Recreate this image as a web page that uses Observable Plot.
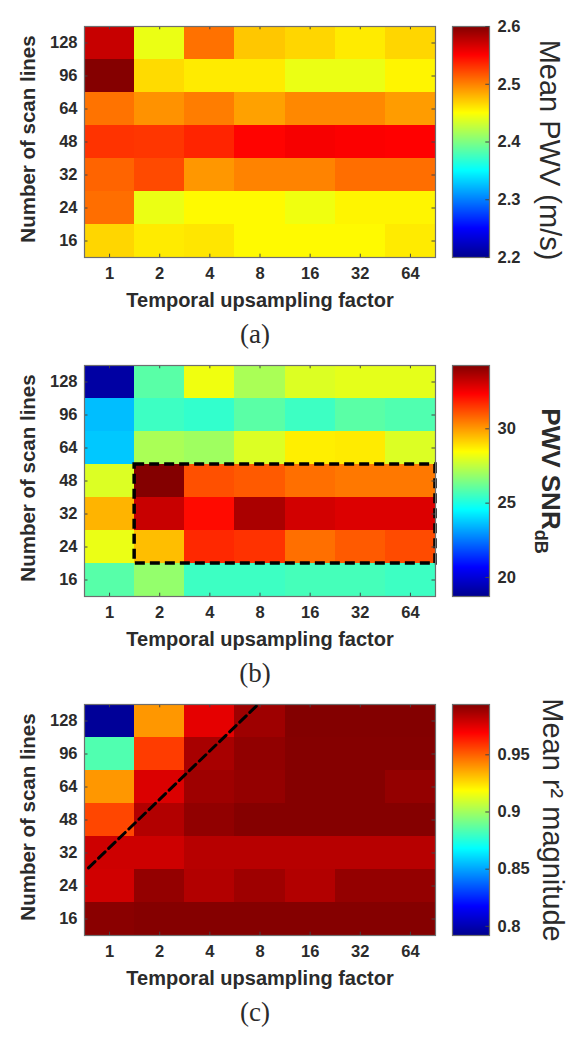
<!DOCTYPE html>
<html><head><meta charset="utf-8">
<script src="https://cdn.jsdelivr.net/npm/d3@7"></script>
<script src="https://cdn.jsdelivr.net/npm/@observablehq/plot@0.6"></script>
<style>
html,body{margin:0;padding:0;background:#fff;}
#fig{position:relative;width:576px;height:1047px;overflow:hidden;font-family:"Liberation Sans",Arial,sans-serif;color:#2b2b2b;}
#fig svg{position:absolute;background:transparent;overflow:visible;}
</style></head><body><div id="fig"></div>
<script>
// Categories
const upsampling = ["1","2","4","8","16","32","64"];
const scanLines = ["128","96","64","48","32","24","16"]; // top to bottom

// (a) Mean PWV (m/s), rows top (128) to bottom (16)
const meanPwv = [
  [2.572,2.442,2.506,2.472,2.466,2.458,2.466],
  [2.598,2.464,2.458,2.458,2.442,2.442,2.454],
  [2.505,2.493,2.501,2.487,2.497,2.497,2.489],
  [2.530,2.529,2.536,2.549,2.553,2.551,2.550],
  [2.511,2.521,2.491,2.499,2.499,2.507,2.507],
  [2.507,2.442,2.452,2.452,2.444,2.454,2.454],
  [2.466,2.458,2.460,2.452,2.452,2.452,2.458]
];
// (b) PWV SNR (dB)
const pwvSnr = [
  [19.06,25.90,28.20,27.13,27.90,28.04,28.04],
  [23.55,25.47,25.31,25.91,25.47,25.91,25.76],
  [23.71,27.13,26.97,27.89,28.67,28.74,27.89],
  [27.89,34.20,31.10,30.95,30.64,30.50,30.50],
  [29.58,33.16,32.16,33.62,33.00,32.85,32.85],
  [28.12,29.43,31.71,31.56,30.64,30.95,31.18],
  [25.87,26.80,25.47,25.47,25.60,25.60,25.47]
];
// (c) Mean r^2 magnitude
const meanR2 = [
  [0.794,0.939,0.974,0.988,0.9935,0.9935,0.9935],
  [0.8835,0.957,0.986,0.9906,0.993,0.993,0.993],
  [0.939,0.976,0.988,0.990,0.993,0.993,0.990],
  [0.955,0.984,0.9906,0.993,0.993,0.993,0.993],
  [0.9787,0.9787,0.983,0.983,0.983,0.983,0.983],
  [0.978,0.990,0.984,0.988,0.984,0.990,0.990],
  [0.992,0.993,0.993,0.993,0.993,0.993,0.993]
];

// Colorbar domains and tick labels
const pwvDomain = [2.2, 2.6];
const pwvTicks = [2.2, 2.3, 2.4, 2.5, 2.6];
const snrDomain = [18.72, 34.26];
const snrTicks = [20, 25, 30];
const r2Domain = [0.792, 0.994];
const r2Ticks = [0.8, 0.85, 0.9, 0.95];

// Annotations (in category units)
const snrBoxCols = ["2", "64"];
const snrBoxRows = ["24", "48"];
const r2Divider = [{col: 0.08, row: 2.05}, {col: 3.46, row: 7.0}];

const jetStops = ["#00008f","#0000ff","#0080ff","#00ffff","#80ff80","#ffff00","#ff8000","#ff0000","#800000"];
const jet = d3.piecewise(d3.interpolateRgb, jetStops);

const nC = upsampling.length, nR = scanLines.length;
const rowIndex = lab => nR - 1 - scanLines.indexOf(lab); // from bottom
const colIndex = lab => upsampling.indexOf(lab);

const FRAME_H = 231;
const baseStyle = {fontFamily: "Liberation Sans, Arial, sans-serif", color: "#2b2b2b", background: "transparent", overflow: "visible"};

const panels = [
  {values: meanPwv, domain: pwvDomain, ticks: pwvTicks, fmt: d => d.toFixed(1), label: "Mean PWV (m/s)", labelSize: 29, labelWeight: "normal", labelDy: 8, labelDx: 60, tag: "(a)", top: 0, H: 339},
  {values: pwvSnr, domain: snrDomain, ticks: snrTicks, fmt: d => String(d), label: "PWV SNR", sub: "dB", labelSize: 26, labelWeight: "bold", labelDy: 0, labelDx: 61, tag: "(b)", top: 339, H: 339},
  {values: meanR2, domain: r2Domain, ticks: r2Ticks, fmt: d => String(d), label: "Mean r\u00B2 magnitude", labelSize: 29, labelWeight: "normal", labelDy: 0, labelDx: 63, tag: "(c)", top: 678, H: 369}
];

const fig = document.getElementById("fig");

panels.forEach((p, k) => {
  const cells = [];
  p.values.forEach((row, r) => row.forEach((v, c) => cells.push({col: c, row: nR - 1 - r, v})));
  const cx = d3.range(nC).map(i => i + 0.5);
  const cy = d3.range(nR).map(i => i + 0.5);
  const color = {type: "linear", domain: p.domain, interpolate: jet, clamp: true};

  const extra = [];
  if (k === 1) {
    extra.push(Plot.rect([0], {
      x1: colIndex(snrBoxCols[0]), x2: colIndex(snrBoxCols[1]) + 1,
      y1: rowIndex(snrBoxRows[0]), y2: rowIndex(snrBoxRows[1]) + 1,
      fill: "none", stroke: "black", strokeWidth: 3.5, strokeDasharray: "10,5"
    }));
  }
  if (k === 2) {
    extra.push(Plot.line(r2Divider, {x: "col", y: "row", stroke: "black", strokeWidth: 3, strokeDasharray: "9,5"}));
  }

  const hm = Plot.plot({
    width: 440, height: p.H,
    marginLeft: 84, marginRight: 5, marginTop: 26, marginBottom: p.H - 26 - FRAME_H,
    x: {type: "linear", domain: [0, nC], label: null},
    y: {type: "linear", domain: [0, nR], label: null},
    color,
    style: baseStyle,
    marks: [
      Plot.rect(cells, {x1: "col", x2: d => d.col + 1, y1: "row", y2: d => d.row + 1, fill: "v", shapeRendering: "crispEdges"}),
      ...extra,
      Plot.ruleX(cx, {x: d => d, y1: 0, y2: 0.1, stroke: "#444"}),
      Plot.ruleX(cx, {x: d => d, y1: nR - 0.1, y2: nR, stroke: "#444"}),
      Plot.ruleY(cy, {y: d => d, x1: 0, x2: 0.07, stroke: "#444"}),
      Plot.ruleY(cy, {y: d => d, x1: nC - 0.07, x2: nC, stroke: "#444"}),
      Plot.frame({stroke: "#6e6e6e", strokeWidth: 1.2}),
      Plot.axisX(cx, {tickSize: 0, tickPadding: 10, tickFormat: i => upsampling[Math.floor(i)], fontSize: 16.5, fontWeight: "bold", label: null}),
      Plot.axisY(cy, {tickSize: 0, tickPadding: 7, tickFormat: i => scanLines[nR - 1 - Math.floor(i)], fontSize: 16.5, fontWeight: "bold", label: null}),
      Plot.text(["Temporal upsampling factor"], {frameAnchor: "bottom", dy: 43, textAnchor: "middle", lineAnchor: "middle", text: d => d, fontSize: 20, fontWeight: "bold"}),
      Plot.text(["Number of scan lines"], {frameAnchor: "left", dx: -56, dy: -3, rotate: -90, textAnchor: "middle", lineAnchor: "middle", text: d => d, fontSize: 20.5, fontWeight: "bold"}),
      Plot.text([p.tag], {frameAnchor: "bottom", dy: 77, dx: -5, textAnchor: "middle", lineAnchor: "middle", text: d => d, fontSize: 27, fontFamily: "Liberation Serif, Times New Roman, serif"})
    ]
  });
  hm.style.left = "0px";
  hm.style.top = p.top + "px";
  fig.appendChild(hm);

  const [lo, hi] = p.domain;
  const N = 231;
  const dv = (hi - lo) / N;
  const steps = d3.range(N).map(i => lo + dv * i);
  const cb = Plot.plot({
    width: 136, height: p.H,
    marginLeft: 12, marginRight: 87, marginTop: 26, marginBottom: p.H - 26 - FRAME_H,
    x: {domain: [0, 1], axis: null},
    y: {domain: [lo, hi], axis: null},
    color,
    style: baseStyle,
    marks: [
      Plot.rect(steps, {x1: 0, x2: 1, y1: d => d, y2: d => d + dv * 1.02, fill: d => d + dv / 2, shapeRendering: "crispEdges"}),
      Plot.frame({stroke: "#6e6e6e", strokeWidth: 1.2}),
      Plot.ruleY(p.ticks, {y: d => d, x1: 0.9, x2: 1, stroke: "#444"}),
      Plot.axisY(p.ticks, {anchor: "right", tickSize: 0, tickPadding: 8, tickFormat: p.fmt, fontSize: 16.5, fontWeight: "bold", label: null}),
      Plot.text([p.label], {frameAnchor: "right", dx: p.labelDx, dy: p.labelDy, rotate: 90, textAnchor: "middle", lineAnchor: "middle", text: d => d, fontSize: p.labelSize, fontWeight: p.labelWeight})
    ]
  });
  if (p.sub) {
    d3.select(cb).selectAll("text").filter(function() { return this.textContent === p.label; })
      .each(function() {
        d3.select(this).append("tspan").attr("font-size", 18).attr("dy", "0.4em").text(p.sub);
      });
  }
  cb.style.left = "440px";
  cb.style.top = p.top + "px";
  fig.appendChild(cb);
});
</script>
</body></html>
